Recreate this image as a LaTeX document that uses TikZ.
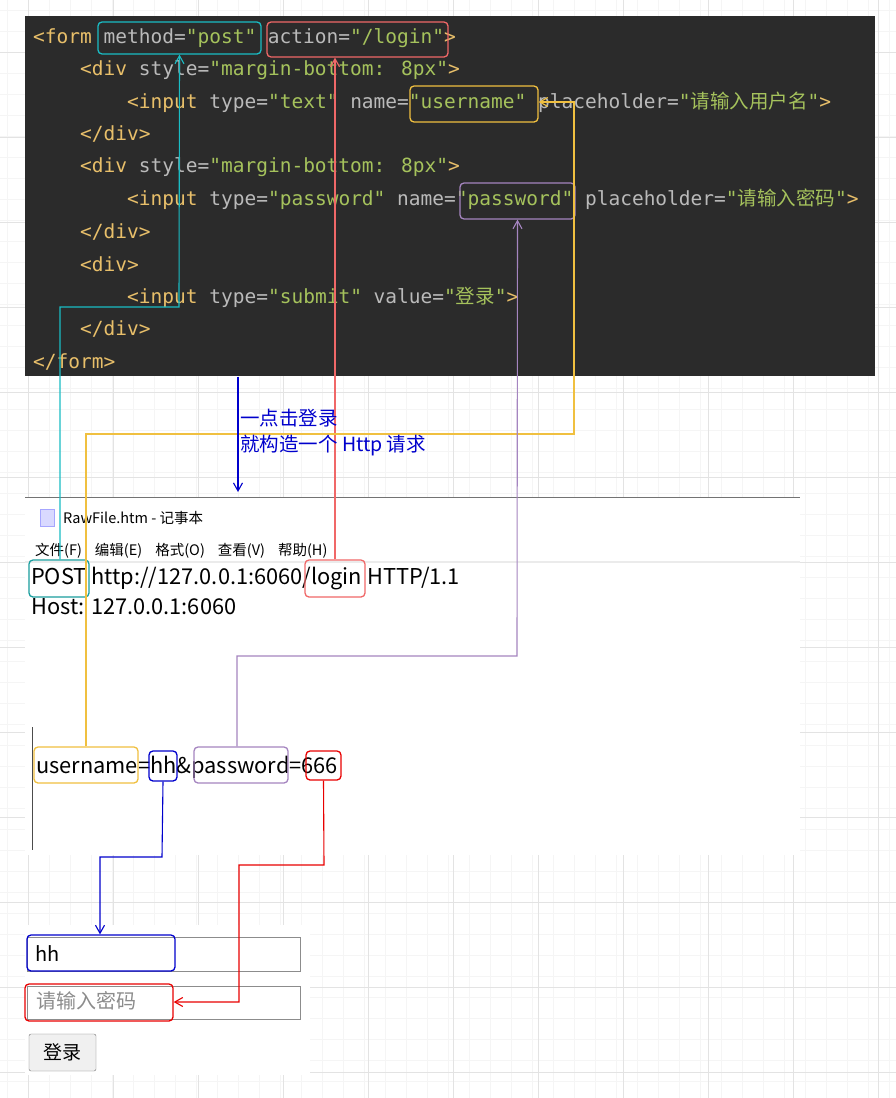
\documentclass[tikz,border=0pt]{standalone}
\usepackage{fontspec}
\setmainfont{Noto Sans CJK SC}
\newfontfamily\cjk{Noto Sans CJK SC}
\newfontfamily\codef{DejaVu Sans Mono}
\usetikzlibrary{arrows.meta}
\definecolor{codebg}{HTML}{2B2B2B}
\definecolor{ctag}{HTML}{E8BF6A}
\definecolor{catt}{HTML}{BABABA}
\definecolor{cval}{HTML}{A5C25C}
\definecolor{ccyan}{HTML}{1ABCC4}
\definecolor{cteal}{HTML}{1A9E9E}
\definecolor{clred}{HTML}{F06868}
\definecolor{cyel}{HTML}{F0C040}
\definecolor{cpur}{HTML}{A585C0}
\definecolor{cblue}{HTML}{0000CC}
\definecolor{cred}{HTML}{E80000}
\newcommand\tg[1]{\textcolor{ctag}{#1}}
\newcommand\at[1]{\textcolor{catt}{#1}}
\newcommand\vl[1]{\textcolor{cval}{#1}}
\tikzset{
 codeln/.style={anchor=west,inner sep=0pt,font=\codef\fontsize{19.5}{20}\selectfont},
 hl/.style={draw,rounded corners=4pt,line width=1.3pt,inner sep=0pt},
 np/.style={anchor=west,inner sep=0pt,font=\fontsize{21.8}{22}\selectfont},
 link/.style={line width=1.1pt},
 tip/.style={-{Straight Barb[length=8pt,width=9pt]}},
}
\begin{document}
\begin{tikzpicture}[x=1pt,y=-1pt]
\useasboundingbox (0,0) rectangle (896,1098);
\fill[white] (0,0) rectangle (896,1098);
% grid
\foreach \x in {7,28,...,896} \draw[black!4] (\x,0) -- (\x,1098);
\foreach \y in {10,31,...,1098} \draw[black!4] (0,\y) -- (896,\y);
\foreach \x in {28,113,...,896} \draw[black!11] (\x,0) -- (\x,1098);
\foreach \y in {52,137,...,1098} \draw[black!11] (0,\y) -- (896,\y);
% code panel
\fill[codebg] (25,16) rectangle (875,376);
\node[codeln] (l1) at (33,38) {\tg{<form} \at{method=}\vl{"post"} \at{action=}\vl{"/login"}\tg{>}};
\node[codeln] (l2) at (80,70) {\tg{<div} \at{style=}\vl{"margin-bottom: 8px"}\tg{>}};
\node[codeln] (l3) at (127,102) {\tg{<input} \at{type=}\vl{"text"} \at{name=}\vl{"username"} \at{placeholder=}\vl{"{\cjk 请输入用户名}"}\tg{>}};
\node[codeln] (l4) at (80,134) {\tg{</div>}};
\node[codeln] (l5) at (80,167) {\tg{<div} \at{style=}\vl{"margin-bottom: 8px"}\tg{>}};
\node[codeln] (l6) at (127,199) {\tg{<input} \at{type=}\vl{"password"} \at{name=}\vl{"password"} \at{placeholder=}\vl{"{\cjk 请输入密码}"}\tg{>}};
\node[codeln] (l7) at (80,232) {\tg{</div>}};
\node[codeln] (l8) at (80,264) {\tg{<div>}};
\node[codeln] (l9) at (127,297) {\tg{<input} \at{type=}\vl{"submit"} \at{value=}\vl{"{\cjk 登录}"}\tg{>}};
\node[codeln] (l10) at (80,329) {\tg{</div>}};
\node[codeln] (l11) at (33,362) {\tg{</form>}};
% code highlight boxes
\node[hl,ccyan,minimum width=163,minimum height=32] (bmethod) at (179.5,38) {};
\node[hl,clred,minimum width=181,minimum height=35] (baction) at (357.5,39.5) {};
\node[hl,cyel,minimum width=128,minimum height=36] (buser) at (474,104) {};
\node[hl,cpur,minimum width=115,minimum height=36] (bpass) at (517.5,201) {};
% notepad
\fill[white] (25,497) rectangle (800,855);
\draw[black!55,line width=1pt] (25,497) -- (800,497);
\draw[black!8,line width=1.5pt] (25,562) -- (800,562);
\node[anchor=west,inner sep=0pt,fill=blue!15,draw=blue!35,minimum width=14,minimum height=17] (icon) at (40,518) {};
\node[anchor=west,inner sep=0pt,font=\fontsize{14.5}{16}\selectfont] (title) at (63,518) {RawFile.htm - 记事本};
\node[anchor=west,inner sep=0pt,font=\fontsize{14.5}{16}\selectfont] (menu) at (35,551) {文件(F)\hspace{13pt}编辑(E)\hspace{13pt}格式(O)\hspace{13pt}查看(V)\hspace{13pt}帮助(H)};
\node[np] (req) at (31,579) {POST http://127.0.0.1:6060/login HTTP/1.1};
\node[np] (host) at (31,607) {Host: 127.0.0.1:6060};
\draw[black!70] (32,727) -- (32,850);
\node[np] (body) at (36,767) {username=hh\&password=666};
\node[hl,cteal,minimum width=60,minimum height=37] (bpost) at (59,578.5) {};
\node[hl,clred,minimum width=60,minimum height=37] (blogin) at (335,578.5) {};
\node[hl,cyel,minimum width=104,minimum height=36] (buser2) at (86,765) {};
\node[hl,cblue,minimum width=28,minimum height=30] (bhh) at (163,766) {};
\node[hl,cpur,minimum width=94,minimum height=36] (bpass2) at (241,765) {};
\node[hl,cred,minimum width=35,minimum height=29] (b666) at (323.5,765.5) {};
% form
\fill[white] (25,925) rectangle (310,1075);
\draw[black!45] (27,937) rectangle (300,971);
\draw[black!45] (27,986) rectangle (300,1019);
\node[anchor=west,inner sep=0pt,font=\fontsize{20}{22}\selectfont] (hhtxt) at (35,954) {hh};
\node[anchor=west,inner sep=0pt,font=\fontsize{20}{22}\selectfont,black!45] (ph) at (36,1001) {请输入密码};
\node[draw=black!55,fill=black!6,rounded corners=2pt,minimum width=67,minimum height=37,inner sep=0pt,font=\fontsize{19}{20}\selectfont] (btn) at (62.5,1052.5) {登录};
\node[hl,cblue,minimum width=148,minimum height=36] (inhh) at (101,953) {};
\node[hl,cred,minimum width=148,minimum height=37] (inpw) at (99,1002.5) {};
% connectors
\draw[link,ccyan,tip] (bpost.north -| 60,0) -- (60,307) -- (179,307) -- (bmethod.south);
\draw[link,clred,tip] (blogin.north) -- (baction.south -| blogin.north);
\draw[link,cyel,tip] (buser2.north) -- (86,434) -- (574,434) -- (574,102) -- (buser.east |- 0,102);
\draw[link,cpur,tip] (bpass2.north -| 237,0) -- (237,656) -- (517,656) -- (bpass.south);
\coordinate (clk) at (238,377);
\coordinate (clkend) at (238,492);
\draw[link,cblue,tip] (clk) -- (clkend);
\node[anchor=west,inner sep=0pt,align=left,text=cblue,font=\fontsize{19.5}{26}\selectfont] (clicklbl) at (240,433) {一点击登录\\就构造一个 Http 请求};
\draw[link,cblue,tip] (bhh.south) -- (162,857) -- (100,857) -- (inhh.north -| 100,0);
\draw[link,cred,tip] (b666.south) -- (324,865) -- (239,865) -- (239,1002) -- (inpw.east |- 0,1002);
\end{tikzpicture}
\end{document}
